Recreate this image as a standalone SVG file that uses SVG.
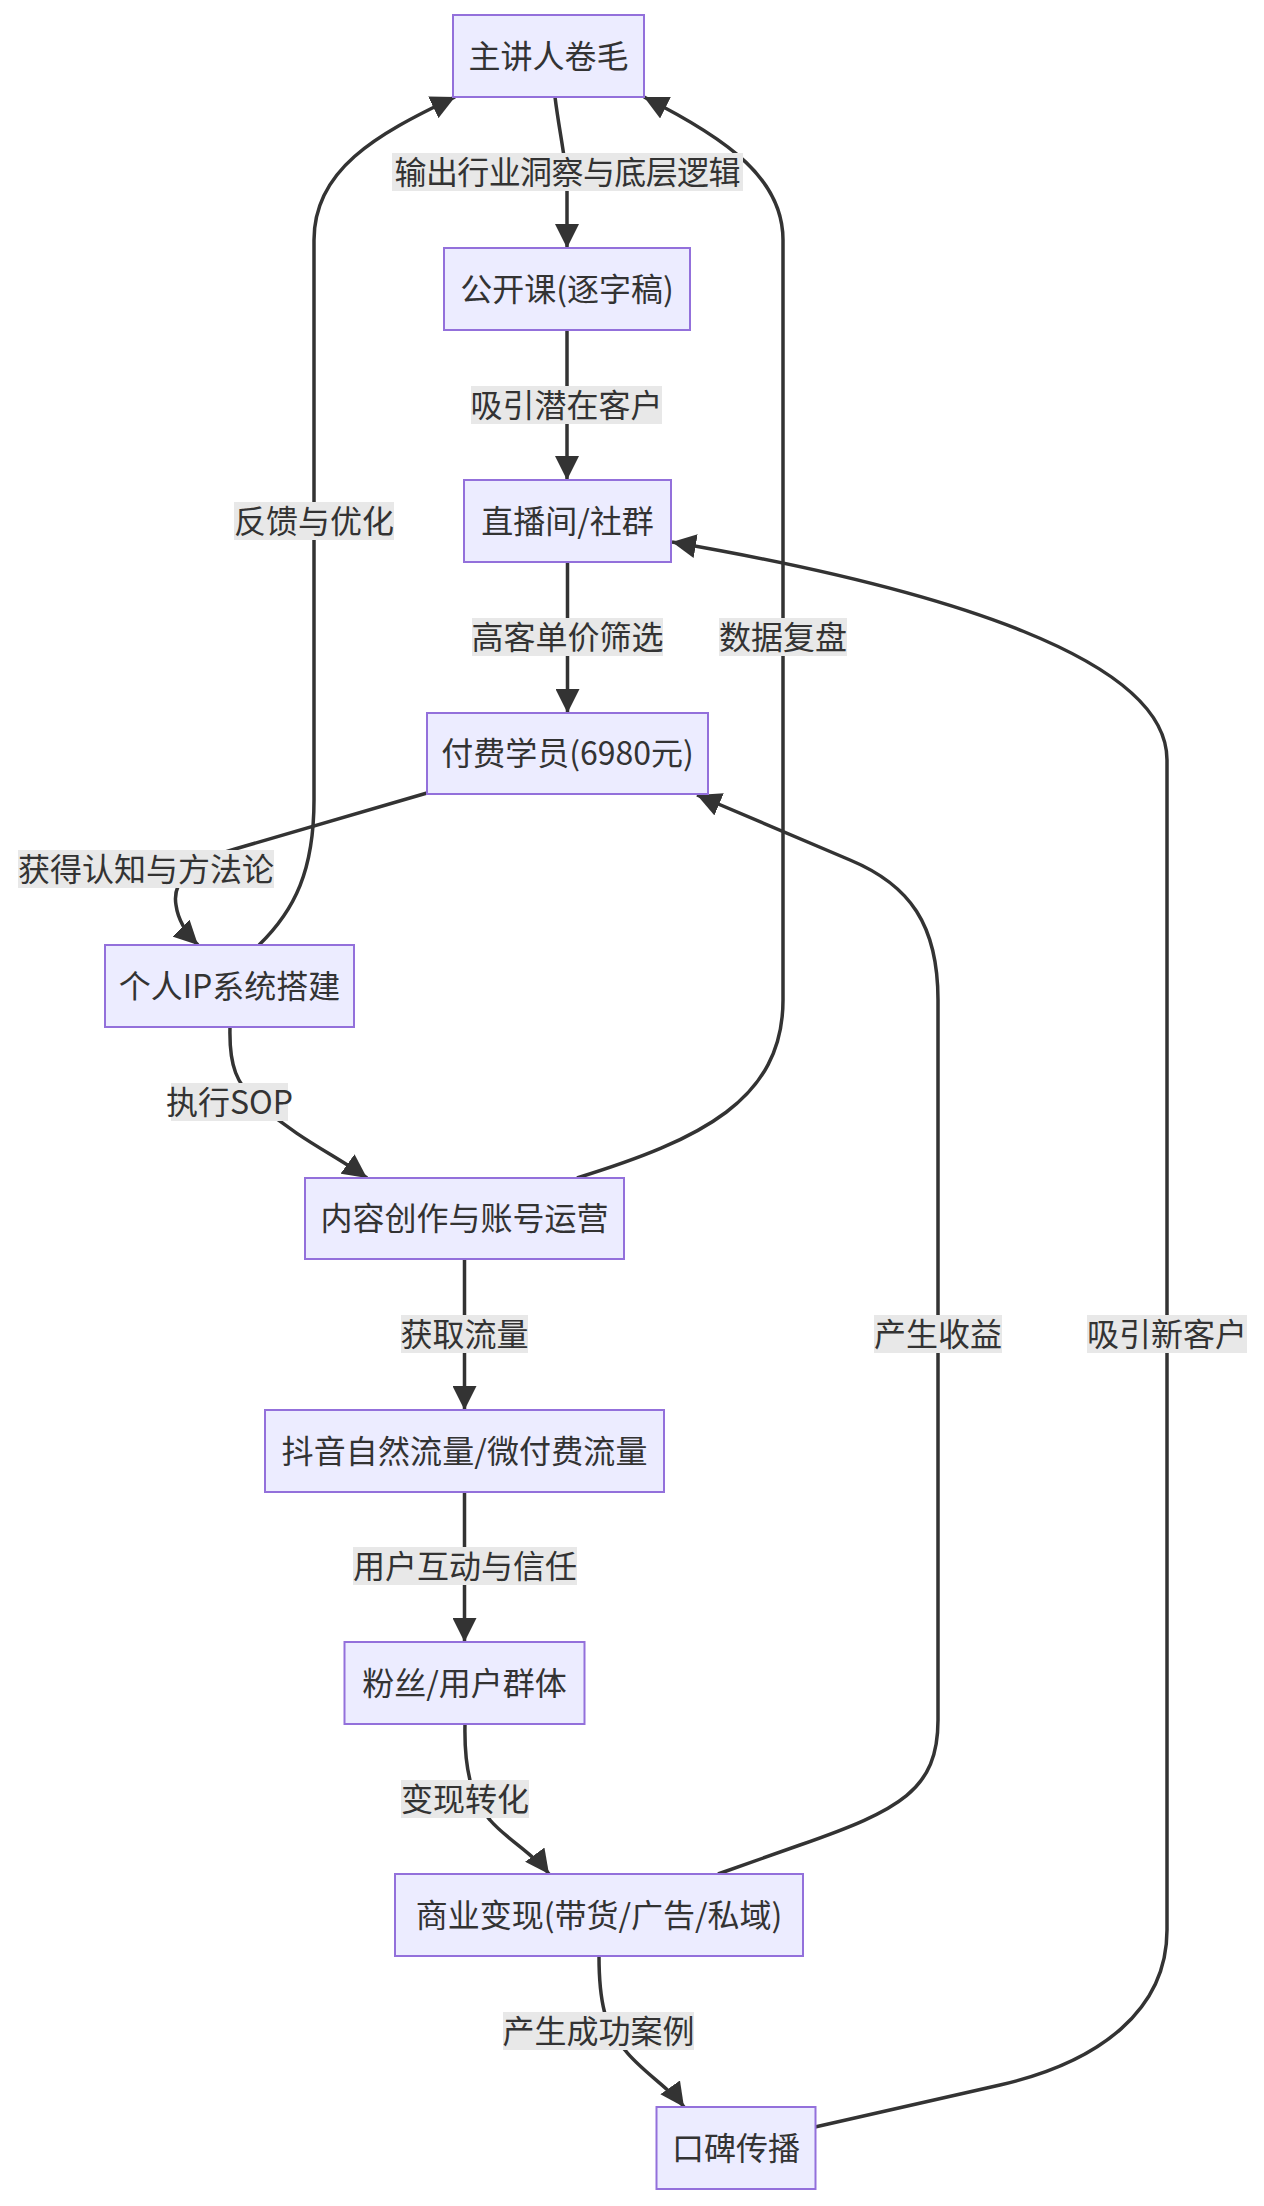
<svg xmlns="http://www.w3.org/2000/svg" width="1264" height="2206" viewBox="0 0 1264 2206">
<style>
.node rect{fill:#ECECFF;stroke:#9370DB;stroke-width:2}
.t{font-family:"Noto Sans CJK SC","Liberation Sans",sans-serif;font-size:32px;fill:#333;text-anchor:middle}
.edge{fill:none;stroke:#333;stroke-width:3.5}
.lbl rect{fill:#e8e8e8}
</style>
<defs>
<marker id="arr" viewBox="0 0 10 10" refX="10" refY="5" markerUnits="userSpaceOnUse" markerWidth="24" markerHeight="24" orient="auto">
<path d="M0,0 L10,5 L0,10 z" fill="#333"/>
</marker>
</defs>
<rect width="1264" height="2206" fill="#fff"/>
<g id="connectors">
<path class="edge" marker-end="url(#arr)" d="M555,97 C559,130 566,160 567,185 L567,248"/>
<path class="edge" marker-end="url(#arr)" d="M567,330 L567,480"/>
<path class="edge" marker-end="url(#arr)" d="M567.5,562 L567.5,713"/>
<path class="edge" marker-end="url(#arr)" d="M427,793 L235,849 C190,862 172,882 176,905 C178,920 186,933 198,945"/>
<path class="edge" marker-end="url(#arr)" d="M259,945 C295,910 314,870 314,800 L314,240 C314,170 375,135 455,97"/>
<path class="edge" marker-end="url(#arr)" d="M577,1178 C700,1140 783,1100 783,1000 L783,240 C783,180 730,140 644,97"/>
<path class="edge" marker-end="url(#arr)" d="M230,1027 C229,1065 236,1085 260,1105 C300,1140 335,1155 367,1178"/>
<path class="edge" marker-end="url(#arr)" d="M464.5,1259 L464.5,1410"/>
<path class="edge" marker-end="url(#arr)" d="M464.5,1492 L464.5,1642"/>
<path class="edge" marker-end="url(#arr)" d="M465,1724 C464,1770 472,1800 490,1820 C505,1838 535,1855 549,1874"/>
<path class="edge" marker-end="url(#arr)" d="M718,1874 L800,1845 C900,1810 938,1790 938,1720 L938,1000 C938,925 910,885 850,860 L697,795"/>
<path class="edge" marker-end="url(#arr)" d="M599,1956 C599,2000 605,2030 625,2050 C640,2070 672,2090 684,2107"/>
<path class="edge" marker-end="url(#arr)" d="M815,2127 L1000,2085 C1100,2062 1167,2010 1167,1930 L1167,760 C1167,660 950,590 672,542"/>
</g>
<g id="edge-labels">
<g class="lbl"><rect x="392" y="153" width="351" height="38"/><text class="t" x="567.5" y="184" textLength="346" lengthAdjust="spacing">输出行业洞察与底层逻辑</text></g>
<g class="lbl"><rect x="471" y="386" width="191" height="38"/><text class="t" x="566.5" y="416.5">吸引潜在客户</text></g>
<g class="lbl"><rect x="472" y="618" width="191" height="38"/><text class="t" x="567.5" y="648.5">高客单价筛选</text></g>
<g class="lbl"><rect x="18" y="850" width="256" height="38"/><text class="t" x="146" y="880.5">获得认知与方法论</text></g>
<g class="lbl"><rect x="234" y="502" width="160" height="38"/><text class="t" x="314" y="532.5">反馈与优化</text></g>
<g class="lbl"><rect x="719" y="618" width="128" height="38"/><text class="t" x="783" y="648.5">数据复盘</text></g>
<g class="lbl"><rect x="171" y="1083" width="117" height="38"/><text class="t" x="229.5" y="1113.5">执行SOP</text></g>
<g class="lbl"><rect x="401" y="1315" width="127" height="38"/><text class="t" x="464.5" y="1345.5">获取流量</text></g>
<g class="lbl"><rect x="353" y="1547" width="224" height="38"/><text class="t" x="465" y="1577.5">用户互动与信任</text></g>
<g class="lbl"><rect x="401" y="1780" width="128" height="38"/><text class="t" x="465" y="1810.5">变现转化</text></g>
<g class="lbl"><rect x="874" y="1315" width="128" height="38"/><text class="t" x="938" y="1345.5">产生收益</text></g>
<g class="lbl"><rect x="503" y="2012" width="191" height="38"/><text class="t" x="598.5" y="2042.5">产生成功案例</text></g>
<g class="lbl"><rect x="1087" y="1315" width="160" height="38"/><text class="t" x="1167" y="1345.5">吸引新客户</text></g>
</g>
<g id="node-A" class="node"><rect x="453" y="15" width="191" height="82"/><text class="t" x="548.5" y="67.5">主讲人卷毛</text></g>
<g id="node-B" class="node"><rect x="444" y="248" width="246" height="82"/><text class="t" x="567" y="300.5">公开课(逐字稿)</text></g>
<g id="node-C" class="node"><rect x="464" y="480" width="207" height="82"/><text class="t" x="567.5" y="532.5">直播间/社群</text></g>
<g id="node-D" class="node"><rect x="427" y="713" width="281" height="81"/><text class="t" x="567.5" y="765">付费学员(6980元)</text></g>
<g id="node-E" class="node"><rect x="105" y="945" width="249" height="82"/><text class="t" x="229.5" y="997.5">个人IP系统搭建</text></g>
<g id="node-F" class="node"><rect x="305" y="1178" width="319" height="81"/><text class="t" x="464.5" y="1230">内容创作与账号运营</text></g>
<g id="node-G" class="node"><rect x="265" y="1410" width="399" height="82"/><text class="t" x="464.5" y="1462.5" textLength="366" lengthAdjust="spacing">抖音自然流量/微付费流量</text></g>
<g id="node-H" class="node"><rect x="344.5" y="1642" width="240" height="82"/><text class="t" x="464.5" y="1694.5">粉丝/用户群体</text></g>
<g id="node-I" class="node"><rect x="395" y="1874" width="408" height="82"/><text class="t" x="599" y="1926.5">商业变现(带货/广告/私域)</text></g>
<g id="node-J" class="node"><rect x="656.5" y="2107" width="159" height="82"/><text class="t" x="736" y="2159.5">口碑传播</text></g>
</svg>
